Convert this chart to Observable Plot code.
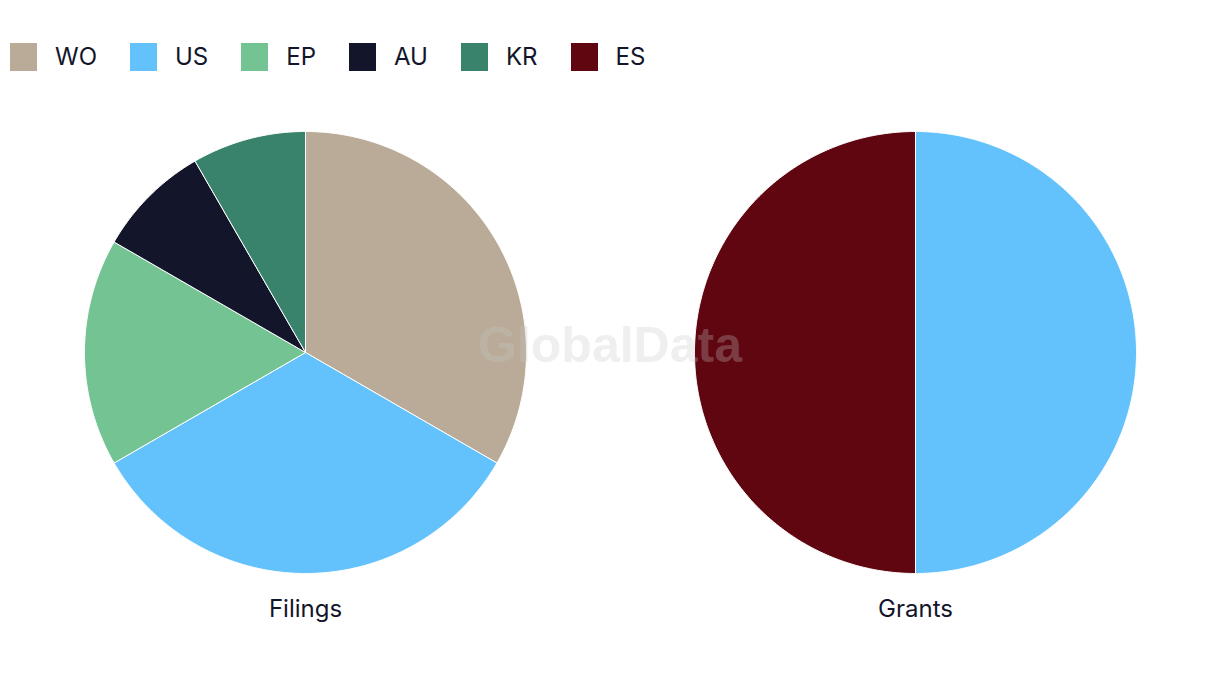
<!DOCTYPE html>
<html>
<head>
<meta charset="utf-8">
<script src="https://cdn.jsdelivr.net/npm/d3@7"></script>
<script src="https://cdn.jsdelivr.net/npm/@observablehq/plot@0.6"></script>
<style>
  html, body { margin: 0; padding: 0; background: #fff; }
  body { width: 1220px; height: 686px; position: relative; overflow: hidden; font-family: Inter, "Noto Sans", sans-serif; color: #13152a; }
  #legend { display: flex; height: 100px; box-sizing: border-box; padding: 43px 0 0 10px; align-items: flex-start; }
  .item { display: flex; align-items: center; margin-right: 33px; height: 28px; }
  .sw { width: 27px; height: 28px; margin-right: 18px; }
  .lab { font-size: 24px; line-height: 28px; }
  #wm { position: absolute; left: 0; width: 1220px; top: 316px; text-align: center; font-family: "Liberation Sans", Arial, sans-serif; font-weight: bold; font-size: 50px; color: #c8c8c8; opacity: 0.28; pointer-events: none; }
</style>
</head>
<body>
<div id="legend"></div>
<div id="chart"></div>
<div id="wm">GlobalData</div>
<script>
// ---- data ----
const charts = ["Filings", "Grants"];
const filingsKeys = ["WO", "US", "EP", "AU", "KR"];
const filingsValues = [4, 4, 2, 1, 1];
const grantsKeys = ["US", "ES"];
const grantsValues = [1, 1];
const legendKeys = ["WO", "US", "EP", "AU", "KR", "ES"];
const legendColors = ["#b9ab98", "#63c2fb", "#74c392", "#13152a", "#39826b", "#5f0610"];

// ---- legend ----
const legend = document.getElementById("legend");
legendKeys.forEach((k, i) => {
  const it = document.createElement("div"); it.className = "item";
  const sw = document.createElement("div"); sw.className = "sw"; sw.style.background = legendColors[i];
  const lb = document.createElement("span"); lb.className = "lab"; lb.textContent = k;
  it.appendChild(sw); it.appendChild(lb); legend.appendChild(it);
});

// ---- pie geometry from data (d3.pie) ----
const pie = d3.pie().sort(null).value(d => d.value);
const series = [
  {chart: "Filings", rows: filingsKeys.map((k, i) => ({key: k, value: filingsValues[i]}))},
  {chart: "Grants", rows: grantsKeys.map((k, i) => ({key: k, value: grantsValues[i]}))}
];
const pts = [];
for (const s of series) {
  for (const a of pie(s.rows)) {
    const id = s.chart + "-" + a.data.key;
    pts.push({chart: s.chart, key: a.data.key, id, x: 0, y: 0});
    const n = Math.max(2, Math.ceil((a.endAngle - a.startAngle) / (Math.PI / 360)));
    for (let j = 0; j <= n; j++) {
      const t = a.startAngle + (a.endAngle - a.startAngle) * j / n;
      pts.push({chart: s.chart, key: a.data.key, id, x: Math.sin(t), y: Math.cos(t)});
    }
    pts.push({chart: s.chart, key: a.data.key, id, x: 0, y: 0});
  }
}

const W = 1220, H = 586, R = 221, mt = 20, mb = 102;
const cellW = W / 2, cellH = H - mt - mb;
const rx = cellW / 2 / R, ry = cellH / 2 / R;

const plot = Plot.plot({
  width: W, height: H,
  marginLeft: 0, marginRight: 0, marginTop: mt, marginBottom: mb,
  style: {fontFamily: "Inter, 'Noto Sans', sans-serif", color: "#13152a", background: "transparent"},
  fx: {domain: charts, padding: 0, axis: null, label: null},
  x: {domain: [-rx, rx], axis: null},
  y: {domain: [-ry, ry], axis: null},
  color: {domain: legendKeys, range: legendColors},
  marks: [
    Plot.line(pts, {fx: "chart", x: "x", y: "y", z: "id", fill: "key", stroke: "white", strokeWidth: 1, strokeLinejoin: "round", curve: "linear"}),
    Plot.axisFx({anchor: "bottom", tickSize: 0, tickPadding: 15, fontSize: 24, label: null, fill: "#13152a"})
  ]
});
document.getElementById("chart").appendChild(plot);
</script>
</body>
</html>
